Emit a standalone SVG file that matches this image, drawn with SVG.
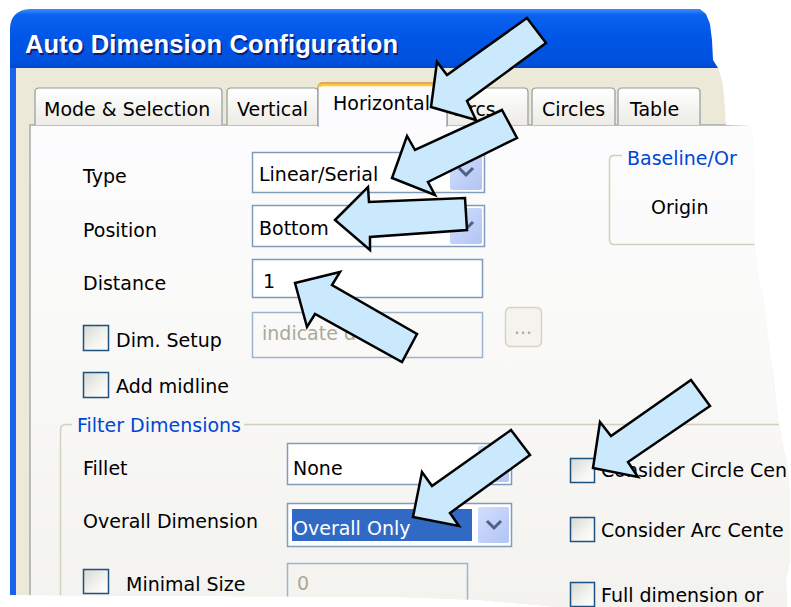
<svg xmlns="http://www.w3.org/2000/svg" width="791" height="607" viewBox="0 0 791 607">
<defs>
<linearGradient id="gTitle" x1="0" y1="0" x2="0" y2="1">
<stop offset="0" stop-color="#3D8BFF"/>
<stop offset="0.1" stop-color="#0A62F0"/>
<stop offset="0.5" stop-color="#0055E5"/>
<stop offset="0.9" stop-color="#0051DD"/>
<stop offset="1" stop-color="#0045C8"/>
</linearGradient>
<linearGradient id="gPage" x1="0" y1="0" x2="0" y2="1">
<stop offset="0" stop-color="#FCFCFE"/>
<stop offset="0.35" stop-color="#FAFAF9"/>
<stop offset="1" stop-color="#F3F2EE"/>
</linearGradient>
<linearGradient id="gTab" x1="0" y1="0" x2="0" y2="1">
<stop offset="0" stop-color="#FFFFFF"/>
<stop offset="1" stop-color="#ECEBE5"/>
</linearGradient>
<linearGradient id="gBtn" x1="0" y1="0" x2="1" y2="1">
<stop offset="0" stop-color="#D2DEFC"/>
<stop offset="1" stop-color="#B1C4F4"/>
</linearGradient>
<linearGradient id="gChk" x1="0" y1="0" x2="1" y2="1">
<stop offset="0" stop-color="#D8D8D2"/>
<stop offset="0.6" stop-color="#F4F4F1"/>
<stop offset="1" stop-color="#FFFFFF"/>
</linearGradient>
<clipPath id="torn">
<path d="M10,28 Q11,10 30,9 L700,9 L706,14 L710,24 L712,40 L713,60 L718,68 L722,80 L724,95 L725,110 L726,125 L750,126 L753,140 L754,240 L757,270 L763,300 L768,340 L774,380 L778,420 L782,440 L788,470 L790,500 L790,560 L786,580 L787,607 L560,607 L480,600 L400,597 L10,595 Z"/>
</clipPath>
<style>
.lbl{font-family:"DejaVu Sans",Verdana,sans-serif;font-size:19px;fill:#000}
.grp{fill:#0046D5}
.dis{fill:#ACA899}
.box{fill:#fff;stroke:#7F9DB9;stroke-width:1.5}
.dbox{fill:none;stroke:#9DB3CF;stroke-width:1.5}
.chk{fill:url(#gChk);stroke:#1C5180;stroke-width:1.5}
.btn{fill:url(#gBtn)}
.chev{fill:none;stroke:#4D6185;stroke-width:3}
.tab{fill:url(#gTab);stroke:#919B9C;stroke-width:1.2}
.gline{fill:none;stroke:#D0D0BF;stroke-width:1.5}
.arrow{fill:#CBE9FC;stroke:#000;stroke-width:2.5;stroke-linejoin:miter}
</style>
</defs>
<rect width="791" height="607" fill="#fff"/>
<g id="dialog" clip-path="url(#torn)">
<rect x="10" y="9" width="790" height="60" fill="url(#gTitle)"/>
<text x="26.5" y="54.5" font-family="Liberation Sans,Arial,sans-serif" font-weight="bold" font-size="25.5" textLength="373" fill="#0A1E7A">Auto Dimension Configuration</text>
<text x="25" y="53" font-family="Liberation Sans,Arial,sans-serif" font-weight="bold" font-size="25.5" textLength="373" fill="#fff">Auto Dimension Configuration</text>
<rect x="10" y="68" width="6" height="540" fill="#1A63EE"/>
<rect x="16" y="68" width="790" height="540" fill="#ECE9D8"/>
<rect x="30" y="125" width="790" height="500" fill="url(#gPage)" stroke="#919B9C" stroke-width="1.2"/>

<g id="tab-mode"><path class="tab" d="M35,125 L35,92 Q35,88 39,88 L218,88 Q222,88 222,92 L222,125"/><text class="lbl" x="44" y="116">Mode &amp; Selection</text></g>
<g id="tab-vertical"><path class="tab" d="M227,125 L227,92 Q227,88 231,88 L314,88 Q318,88 318,92 L318,125"/><text class="lbl" x="237" y="116">Vertical</text></g>
<g id="tab-arcs"><path class="tab" d="M447,125 L447,92 Q447,88 451,88 L524,88 Q528,88 528,92 L528,125"/><text class="lbl" x="455" y="116">Arcs</text></g>
<g id="tab-circles"><path class="tab" d="M532,125 L532,92 Q532,88 536,88 L611,88 Q615,88 615,92 L615,125"/><text class="lbl" x="542" y="116">Circles</text></g>
<g id="tab-table"><path class="tab" d="M618,125 L618,92 Q618,88 622,88 L696,88 Q700,88 700,92 L700,125"/><text class="lbl" x="630" y="116">Table</text></g>
<g id="tab-horizontal"><path d="M318,126 L318,87 Q318,83 322,83 L443,83 Q447,83 447,87 L447,126 Z" fill="#FCFCFE" stroke="#919B9C" stroke-width="1.2"/><rect x="319" y="125" width="127" height="3" fill="#FCFCFE"/><path d="M319.5,87 Q319.5,84.5 322,84.5 L443,84.5 Q445.5,84.5 445.5,87" fill="none" stroke="#FFC83C" stroke-width="3.5"/><path d="M320,84 Q320,83 322,83 L443,83 Q445,83 445,84" fill="none" stroke="#E68B2C" stroke-width="1"/><text class="lbl" x="333" y="110">Horizontal</text></g>

<g id="row-type"><text class="lbl" x="83" y="183">Type</text><rect class="box" x="252.5" y="152.5" width="232" height="40"/><rect class="btn" x="450" y="155" width="32" height="35" rx="2"/><path class="chev" d="M459,168 L466,175 L473,168"/><text class="lbl" x="259" y="181">Linear/Serial</text></g>
<g id="row-position"><text class="lbl" x="83" y="237">Position</text><rect class="box" x="252.5" y="205.5" width="232" height="41"/><rect class="btn" x="450" y="208" width="32" height="36" rx="2"/><path class="chev" d="M459,222 L466,229 L473,222"/><text class="lbl" x="259" y="235">Bottom</text></g>
<g id="row-distance"><text class="lbl" x="83" y="290">Distance</text><rect class="box" x="252.5" y="259.5" width="230" height="38"/><text class="lbl" x="263" y="288">1</text></g>
<g id="row-dimsetup"><rect class="chk" x="83.5" y="325.5" width="25" height="25"/><text class="lbl" x="116" y="347">Dim. Setup</text><rect class="dbox" x="252.5" y="312.5" width="230" height="45"/><text class="lbl dis" x="262" y="340">indicate d</text><rect x="505.5" y="307.5" width="36" height="39" rx="5" fill="#F4F3EE" stroke="#D6D3C4" stroke-width="1.5"/><text class="lbl dis" x="523" y="334" text-anchor="middle" font-size="14">...</text></g>
<g id="row-midline"><rect class="chk" x="83.5" y="372.5" width="25" height="25"/><text class="lbl" x="116" y="393">Add midline</text></g>

<g id="group-baseline"><path class="gline" d="M622,155.5 L614,155.5 Q609.5,155.5 609.5,160 L609.5,240 Q609.5,244.5 614,244.5 L760,244.5"/><text class="lbl grp" x="627" y="165">Baseline/Or</text><text class="lbl" x="651" y="214">Origin</text></g>

<g id="group-filter"><path class="gline" d="M72,424.5 L66,424.5 Q60.5,424.5 60.5,430 L60.5,610"/><path class="gline" d="M244,424.5 L790,424.5"/><text class="lbl grp" x="77" y="432">Filter Dimensions</text></g>

<g id="row-fillet"><text class="lbl" x="83" y="475">Fillet</text><rect class="box" x="287.5" y="443.5" width="224" height="41"/><rect class="btn" x="478" y="446" width="31" height="36" rx="2"/><path class="chev" d="M487,460 L494,467 L501,460"/><text class="lbl" x="293" y="475">None</text></g>
<g id="row-overall"><text class="lbl" x="83" y="528">Overall Dimension</text><rect class="box" x="287.5" y="503.5" width="224" height="43"/><rect x="292" y="509" width="180" height="32" fill="#316AC5"/><rect class="btn" x="478" y="507" width="31" height="36" rx="2"/><path class="chev" d="M487,521 L494,528 L501,521"/><text class="lbl" x="293" y="535" fill="#fff" style="fill:#fff">Overall Only</text></g>
<g id="row-minimal"><rect class="chk" x="83.5" y="569.5" width="25" height="24"/><text class="lbl" x="126" y="591">Minimal Size</text><rect class="dbox" x="287.5" y="563.5" width="180" height="50"/><text class="lbl dis" x="297" y="590">0</text></g>

<g id="chk-circle"><rect class="chk" x="570.5" y="458.5" width="24" height="24"/><text class="lbl" x="601" y="477">Consider Circle Cen</text></g>
<g id="chk-arc"><rect class="chk" x="570.5" y="517.5" width="24" height="24"/><text class="lbl" x="601" y="537">Consider Arc Cente</text></g>
<g id="chk-full"><rect class="chk" x="570.5" y="582.5" width="24" height="24"/><text class="lbl" x="601" y="602">Full dimension or</text></g>
</g>

<g id="arrows">
<polygon class="arrow" points="527,18 546,43 467,101 476,120 431,107 437,62 447,75"/>
<polygon class="arrow" points="502,110 517,138 428,182 435,195 392,178 407,136 415,150"/>
<polygon class="arrow" points="335,220 368,187 369,202 465,198 467,230 370,237 370,250"/>
<polygon class="arrow" points="295,283 340,272 332,285 417,334 402,362 315,314 307,327"/>
<polygon class="arrow" points="511,430 530,455 450,513 459,526 413,517 422,472 432,486"/>
<polygon class="arrow" points="691,380 710,406 628,462 638,477 593,468 600,422 611,436"/>
</g>
</svg>
